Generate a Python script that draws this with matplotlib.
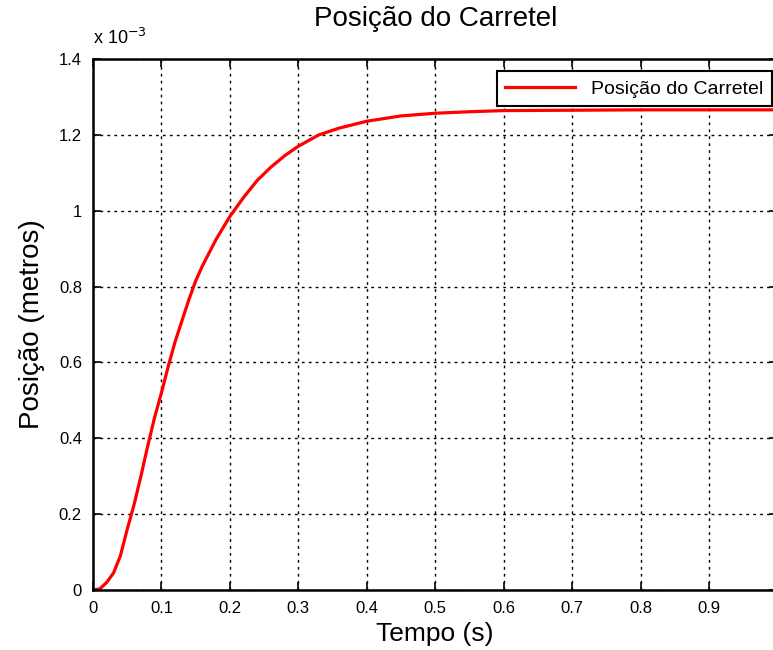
import numpy as np
import matplotlib
matplotlib.use("Agg")
import matplotlib.pyplot as plt
from matplotlib.ticker import FuncFormatter

# spool position response (time in s, position in mm -> plotted in metres)
tempo = [0, 0.01, 0.02, 0.03, 0.04, 0.05, 0.06, 0.07, 0.08, 0.09, 0.10,
         0.11, 0.12, 0.13, 0.14, 0.15, 0.16, 0.18, 0.20, 0.22, 0.24, 0.26,
         0.28, 0.30, 0.33, 0.36, 0.40, 0.45, 0.50, 0.55, 0.60, 0.70, 0.80,
         0.90, 1.0]
posicao_mm = [0, 0.003, 0.02, 0.045, 0.09, 0.16, 0.225, 0.30, 0.38, 0.455,
              0.52, 0.59, 0.655, 0.71, 0.765, 0.815, 0.855, 0.925, 0.985,
              1.035, 1.08, 1.115, 1.145, 1.17, 1.20, 1.218, 1.236, 1.25,
              1.257, 1.261, 1.264, 1.265, 1.266, 1.266, 1.266]

xticks = [0, 0.1, 0.2, 0.3, 0.4, 0.5, 0.6, 0.7, 0.8, 0.9]
yticks_mm = [0, 0.2, 0.4, 0.6, 0.8, 1.0, 1.2, 1.4]

plt.rcParams['font.family'] = ['Liberation Sans', 'DejaVu Sans']

fig = plt.figure(figsize=(7.73, 6.5), dpi=100)
ax = fig.add_axes([0.1203, 0.0923, 0.8854, 0.8169])

t = np.array(tempo)
y = np.array(posicao_mm) * 1e-3
ax.plot(t, y, color='red', lw=2.3, label='Posição do Carretel')

ax.set_xlim(0, 1.0)
ax.set_ylim(0, 1.4e-3)
ax.set_xticks(xticks)
ax.set_yticks(np.array(yticks_mm) * 1e-3)
ax.xaxis.set_major_formatter(FuncFormatter(lambda v, p: '%g' % v))
ax.yaxis.set_major_formatter(FuncFormatter(lambda v, p: '%g' % round(v * 1e3, 3)))
ax.tick_params(direction='in', length=6, width=1.2, labelsize=12,
               top=True, right=True, pad=8)
for s in ax.spines.values():
    s.set_linewidth(1.8)
ax.grid(True, color='black', linestyle=(0, (2, 3)), linewidth=1.0)

ax.text(0.0, 1.02, r'x 10$^{-3}$', transform=ax.transAxes, fontsize=13,
        ha='left', va='bottom')

ax.set_title('Posição do Carretel', fontsize=20, pad=24)
ax.set_xlabel('Tempo (s)', fontsize=19, labelpad=4)
ax.set_ylabel('Posição (metros)', fontsize=20, labelpad=10)

leg = ax.legend(loc='upper right', bbox_to_anchor=(0.992, 0.977), fontsize=14,
                fancybox=False, framealpha=1, edgecolor='black',
                handlelength=3.6, borderpad=0.45, borderaxespad=0)
leg.get_frame().set_linewidth(1.5)

fig.savefig('out.png', dpi=100)
